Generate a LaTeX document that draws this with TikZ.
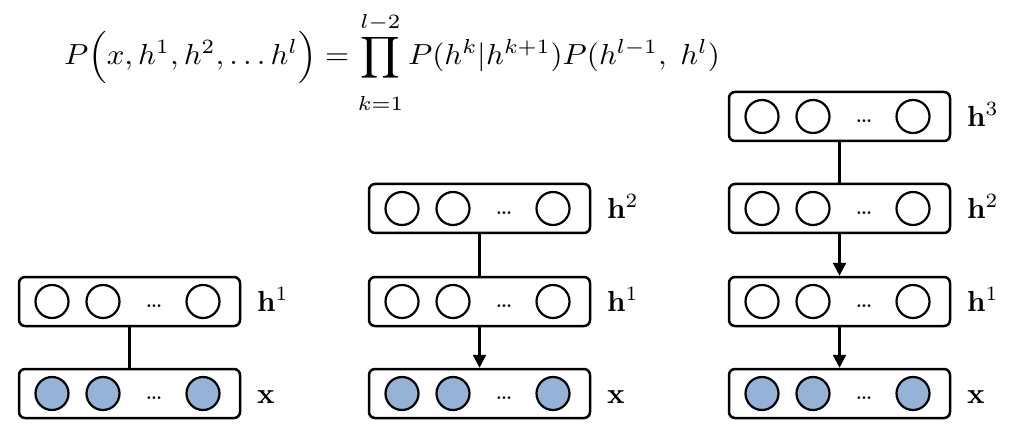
\documentclass[tikz,border=0pt]{standalone}
\usepackage{amsmath}
\usepackage{graphicx}
\usetikzlibrary{arrows.meta,calc}
\definecolor{vis}{HTML}{95B3D7}
\tikzset{
 layer/.style={draw, line width=2.5pt, rounded corners=6pt, minimum width=221pt, minimum height=49pt, inner sep=0pt},
 unit/.style={draw, circle, line width=2.2pt, minimum size=33pt, inner sep=0pt},
 visunit/.style={unit, fill=vis},
 dotsnode/.style={inner sep=0pt},
 lbl/.style={inner sep=0pt, anchor=base west},
 link/.style={line width=3pt},
 arr/.style={line width=2.4pt, -{Triangle[width=13pt,length=13pt]}},
}
\newcommand{\mklayer}[5]{%
 \node[layer] (#1) at (#2,#3) {};
 \node[#4] (#1a) at ($(#1.center)+(-77.5,0)$) {};
 \node[#4] (#1b) at ($(#1.center)+(-26.5,0)$) {};
 \node[dotsnode] (#1d) at ($(#1.center)+(24.5,5)$) {\scalebox{2.6}{\ldots}};
 \node[#4] (#1c) at ($(#1.center)+(73.5,0)$) {};
 \node[lbl] (#1l) at ($(#1.center)+(127.5,10)$) {\scalebox{2.9}{#5}};
}
\begin{document}
\begin{tikzpicture}[x=1pt,y=-1pt]
\useasboundingbox (0,0) rectangle (1024,430);
\node[inner sep=0pt, anchor=base] (eq) at (392,65)
 {\scalebox{3.1}[2.9]{$\displaystyle P\Big(x, h^1, h^2, \ldots h^l\Big) = \prod_{\rule{0pt}{8.5pt}k=1}^{l-2} P(h^k|h^{k+1})P(h^{l-1},\; h^l)$}};
% column 1
\mklayer{ah}{129.5}{301.5}{unit}{$\mathbf{h}^1$}
\mklayer{ax}{129.5}{393.5}{visunit}{$\mathbf{x}$}
\draw[link] (ah) -- (ax);
% column 2
\mklayer{bht}{479.5}{208.5}{unit}{$\mathbf{h}^2$}
\mklayer{bh}{479.5}{301.5}{unit}{$\mathbf{h}^1$}
\mklayer{bx}{479.5}{393.5}{visunit}{$\mathbf{x}$}
\draw[link] (bht) -- (bh);
\draw[arr] (bh) -- (bx);
% column 3
\mklayer{chh}{839.5}{116.5}{unit}{$\mathbf{h}^3$}
\mklayer{cht}{839.5}{208.5}{unit}{$\mathbf{h}^2$}
\mklayer{ch}{839.5}{301.5}{unit}{$\mathbf{h}^1$}
\mklayer{cx}{839.5}{393.5}{visunit}{$\mathbf{x}$}
\draw[link] (chh) -- (cht);
\draw[arr] (cht) -- (ch);
\draw[arr] (ch) -- (cx);
\end{tikzpicture}
\end{document}
